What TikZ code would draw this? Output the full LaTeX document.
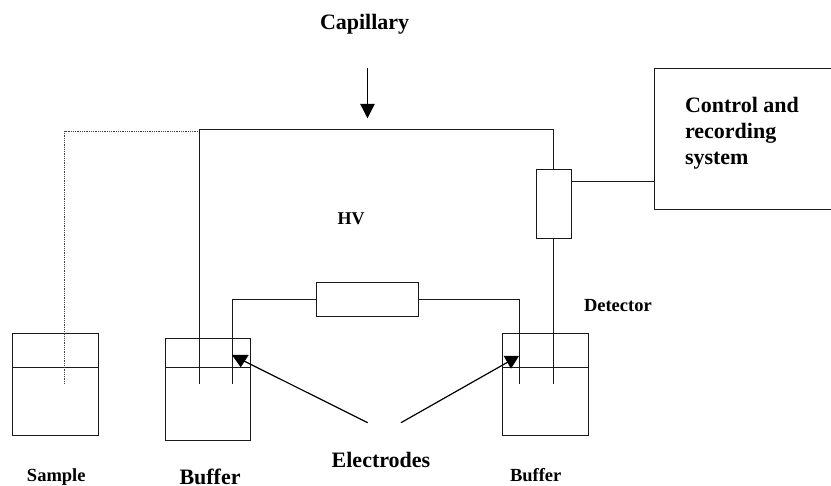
\documentclass[tikz,border=0pt]{standalone}
\usepackage{fontspec}
\setmainfont{Liberation Serif}
\begin{document}
\begin{tikzpicture}[x=1pt,y=-1pt,
  ln/.style={draw=black!90,line width=1.5pt},
  thin ln/.style={draw=black,line width=1.2pt},
  dots/.style={draw=black!75,line width=1pt,dash pattern=on 1pt off 0.8pt},
  lbl/.style={anchor=base west,inner sep=0pt,outer sep=0pt,font=\bfseries\fontsize{#1}{#1}\selectfont},
  tip/.style={fill=black,draw=none}]
\useasboundingbox (0,0) rectangle (831,486);
% beakers
\coordinate (s1) at (12.5,333.5); \coordinate (s2) at (98.5,435.5);
\coordinate (b1) at (165.5,338.5); \coordinate (b2) at (250.5,440.5);
\coordinate (r1) at (502.5,333.5); \coordinate (r2) at (588.5,435.5);
\draw[ln] (s1) rectangle (s2);
\draw[ln] (b1) rectangle (b2);
\draw[ln] (r1) rectangle (r2);
\draw[ln] (12.5,367.5) -- (98.5,367.5);
\draw[ln] (165.5,367.5) -- (250.5,367.5);
\draw[ln] (502.5,367.5) -- (588.5,367.5);
% capillary
\coordinate (sampleEnd) at (64.5,384);
\coordinate (bufEnd) at (199.5,384);
\coordinate (rEnd) at (553.5,384);
\draw[dots] (sampleEnd) -- (64.5,131.5) -- (199.5,131.5);
% detector
\node[ln,rectangle,inner sep=0pt,outer sep=0pt,minimum width=35pt,minimum height=69pt] (det) at (554,204) {};
\draw[ln] (bufEnd) -- (199.5,129.5) -- (553.5,129.5) -- (553.5,169.5);
\draw[ln] (553.5,238.5) -- (rEnd);
% control
\draw[ln] (831,68.5) -- (654.5,68.5) -- (654.5,209.5) -- (831,209.5);
\coordinate (ctrl) at (654.5,181.5);
\draw[ln] (det.east |- ctrl) -- (ctrl);
% HV
\node[ln,rectangle,inner sep=0pt,outer sep=0pt,minimum width=102pt,minimum height=34pt] (hv) at (367.5,299.5) {};
\coordinate (e1) at (232.5,384);
\coordinate (e2) at (519.5,384);
\draw[ln] (hv.west) -- (232.5,299.5) -- (e1);
\draw[ln] (hv.east) -- (519.5,299.5) -- (e2);
% arrows
\coordinate (capA) at (367.5,68);
\coordinate (capB) at (367.5,108);
\draw[thin ln] (capA) -- (capB);
\fill[tip] (360.2,104) -- (374.8,104) -- (367.5,118.3) -- cycle;
\coordinate (l1) at (367.7,422.7);
\coordinate (l2) at (244,361);
\coordinate (r3) at (401,422.7);
\coordinate (r4) at (508,362);
\draw[thin ln] (l1) -- (l2);
\draw[thin ln] (r3) -- (r4);
\fill[tip] (232,355) -- (248.7,355) -- (240.7,367.3) -- cycle;
\fill[tip] (503.7,356) -- (519,356) -- (511,368.7) -- cycle;
% labels
\node[lbl=22] (capl) at (320,29.5) {Capillary};
\node[lbl=22] (ct1) at (685,113) {Control and};
\node[lbl=22] (ct2) at (685,139) {recording};
\node[lbl=22] (ct3) at (685,165) {system};
\node[lbl=18] (hvl) at (337.7,225) {HV};
\node[lbl=18.5] (detl) at (584,311.7) {Detector};
\node[lbl=18.5] (sl) at (27,481.7) {Sample};
\node[lbl=22] (bl) at (179.5,484.5) {Buffer};
\node[lbl=22] (el) at (331.7,468) {Electrodes};
\node[lbl=18.5] (br) at (510,481.7) {Buffer};
\end{tikzpicture}
\end{document}
